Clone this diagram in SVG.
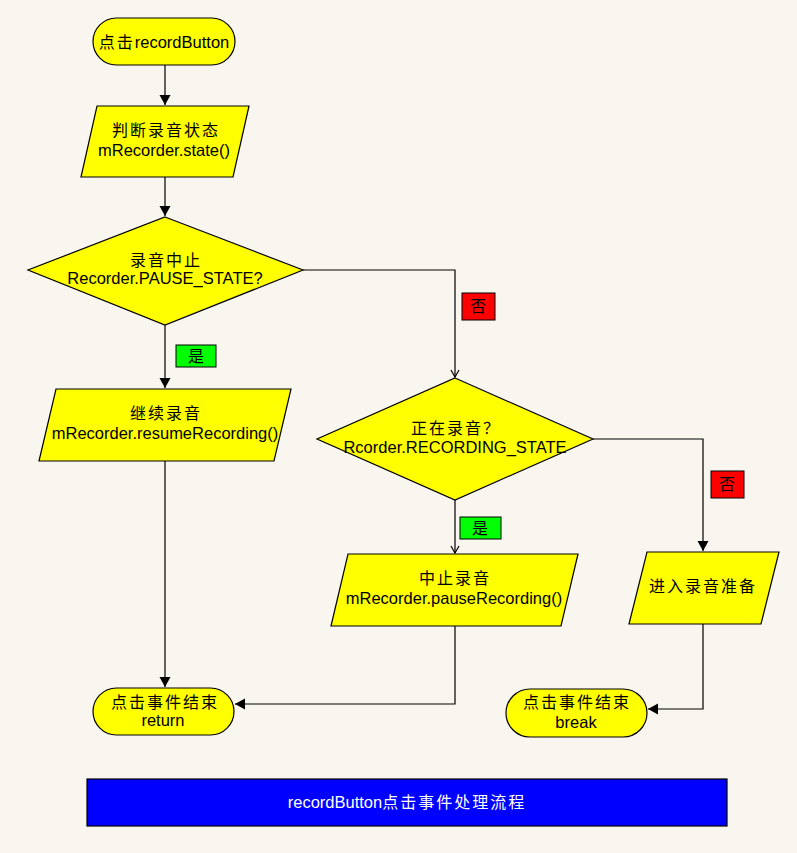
<svg xmlns="http://www.w3.org/2000/svg" width="797" height="853" viewBox="0 0 797 853">
<style>
text{font-family:"Liberation Sans","Noto Sans CJK SC",sans-serif;font-size:16.5px;fill:#000;text-anchor:middle}
.cn{letter-spacing:2px;font-size:16px}
.shape{fill:#FFFF00;stroke:#000;stroke-width:1.2}
.conn{fill:none;stroke:#000;stroke-width:1.2}
.title{fill:#fff}
</style>
<defs>
<marker id="fa" markerWidth="12" markerHeight="12" refX="11" refY="6" orient="auto" markerUnits="userSpaceOnUse">
<path d="M1,0.5 L11,6 L1,11.5 z" fill="#000"/>
</marker>
<marker id="oa" markerWidth="10" markerHeight="10" refX="8" refY="5" orient="auto" markerUnits="userSpaceOnUse">
<path d="M1,1 L8,5 L1,9" fill="none" stroke="#000" stroke-width="1.2"/>
</marker>
</defs>
<rect width="797" height="853" fill="#F9F6F0"/>
<g id="connectors">
<path class="conn" d="M165,65 V105" marker-end="url(#fa)"/>
<path class="conn" d="M165,177 V216" marker-end="url(#fa)"/>
<path class="conn" d="M165,325 V388" marker-end="url(#fa)"/>
<path class="conn" d="M303,270 H455 V377" marker-end="url(#oa)"/>
<path class="conn" d="M455,500 V553" marker-end="url(#oa)"/>
<path class="conn" d="M593,439 H703 V551" marker-end="url(#fa)"/>
<path class="conn" d="M165,461 V687" marker-end="url(#fa)"/>
<path class="conn" d="M455,626 V704 H235" marker-end="url(#fa)"/>
<path class="conn" d="M703,624 V709 H648" marker-end="url(#fa)"/>
</g>
<g id="lbl-no1"><rect x="462" y="293" width="33" height="27" fill="#FF0000" stroke="#000" stroke-width="1"/><text class="cn" x="479" y="312">否</text></g>
<g id="lbl-no2"><rect x="711" y="471" width="33" height="27" fill="#FF0000" stroke="#000" stroke-width="1"/><text class="cn" x="728" y="490">否</text></g>
<g id="lbl-yes1"><rect x="176" y="345" width="40" height="22" fill="#00FF00" stroke="#000" stroke-width="1"/><text class="cn" x="197" y="362">是</text></g>
<g id="lbl-yes2"><rect x="460" y="517" width="41" height="22" fill="#00FF00" stroke="#000" stroke-width="1"/><text class="cn" x="481" y="534">是</text></g>
<g id="start">
<rect class="shape" x="93" y="18" width="142" height="47" rx="23.5" ry="23.5"/>
<text x="164" y="48"><tspan class="cn">点击</tspan>recordButton</text>
</g>
<g id="check-state">
<polygon class="shape" points="97,106 249,106 233,177 81,177"/>
<text class="cn" x="166" y="136">判断录音状态</text>
<text x="164" y="156">mRecorder.state()</text>
</g>
<g id="decision-pause">
<polygon class="shape" points="165,217 303,270 165,325 28,270"/>
<text class="cn" x="166" y="266">录音中止</text>
<text x="165" y="284">Recorder.PAUSE_STATE?</text>
</g>
<g id="resume">
<polygon class="shape" points="56,389 291,389 274,461 39,461"/>
<text class="cn" x="166" y="419">继续录音</text>
<text x="165" y="439">mRecorder.resumeRecording()</text>
</g>
<g id="decision-recording">
<polygon class="shape" points="455,378 593,439 455,500 317,439"/>
<text class="cn" x="456" y="434">正在录音？</text>
<text x="455" y="453">Rcorder.RECORDING_STATE</text>
</g>
<g id="pause">
<polygon class="shape" points="348,554 578,554 561,626 331,626"/>
<text class="cn" x="455" y="584">中止录音</text>
<text x="454" y="604">mRecorder.pauseRecording()</text>
</g>
<g id="prepare">
<polygon class="shape" points="647,552 779,552 761,624 629,624"/>
<text class="cn" x="703" y="592">进入录音准备</text>
</g>
<g id="end-return">
<rect class="shape" x="93" y="688" width="141" height="47" rx="23.5" ry="23.5"/>
<text class="cn" x="165" y="708">点击事件结束</text>
<text x="163" y="726">return</text>
</g>
<g id="end-break">
<rect class="shape" x="506" y="689" width="141" height="48" rx="24" ry="24"/>
<text class="cn" x="577" y="708">点击事件结束</text>
<text x="576" y="728">break</text>
</g>
<g id="title">
<rect x="87" y="779" width="640" height="47" fill="#0000FF" stroke="#000" stroke-width="1.2"/>
<text class="title" x="407" y="808">recordButton<tspan class="cn">点击事件处理流程</tspan></text>
</g>
</svg>
